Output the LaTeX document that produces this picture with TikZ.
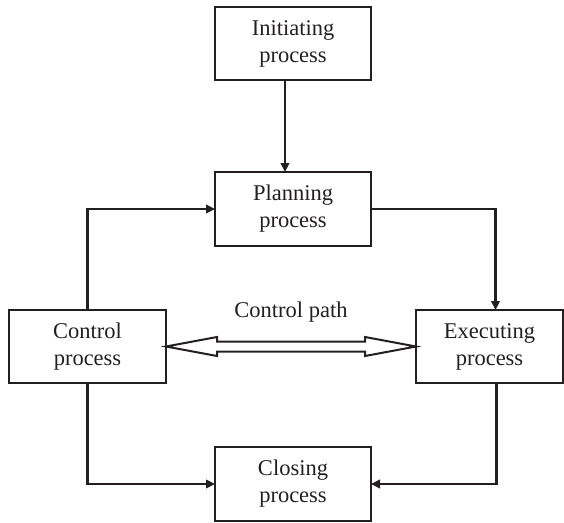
\documentclass[tikz,border=0pt]{standalone}
\usepackage{fontspec}
\setmainfont{Liberation Serif}
\usetikzlibrary{arrows.meta,calc}
\definecolor{ink}{HTML}{231F20}
\begin{document}
\begin{tikzpicture}[x=1pt, y=1pt, ink, line width=2.3pt,
    main/.style = {draw, line width=2.8pt, rectangle, inner sep=0pt, outer sep=0pt, align=center, font=\fontsize{22.5}{27}\selectfont, text=ink},
    link/.style = {-{Triangle[length=9pt,width=8.5pt]}},
    dblarrow/.style = {line width=2pt, miter limit=20}]
    \useasboundingbox (0,0) rectangle (564,-522);
    \node[main, minimum width=156, minimum height=73] (init) at (293,-43.5) {Initiating\\process};
    \node[main, minimum width=156, minimum height=74] (plan) at (293,-209) {Planning\\process};
    \node[main, minimum width=157, minimum height=73] (ctrl) at (87.5,-346.5) {Control\\process};
    \node[main, minimum width=147, minimum height=73] (exec) at (489.5,-346.5) {Executing\\process};
    \node[main, minimum width=156, minimum height=74] (close) at (293,-484) {Closing\\process};
    \node[font=\fontsize{22.5}{27}\selectfont, text=ink] (path) at (291,-312) {Control path};
    \draw[link] ([xshift=-8]init.south) -- ([xshift=-8]plan.north);
    \draw[link] (ctrl.north) |- (plan.west);
    \draw[link] (plan.east) -| ([xshift=6]exec.north);
    \draw[link] (ctrl.south) |- (close.west);
    \draw[link] ([xshift=7]exec.south) |- (close.east);
    \draw[dblarrow] (ctrl.east) -- ++(51,9.5) -- ++(0,-4.5) -- ($(exec.west)+(-51,5)$) -- ++(0,4.5) -- (exec.west)
        -- ++(-51,-9.5) -- ++(0,4.5) -- ($(ctrl.east)+(51,-5)$) -- ++(0,-4.5) -- cycle;
\end{tikzpicture}
\end{document}
